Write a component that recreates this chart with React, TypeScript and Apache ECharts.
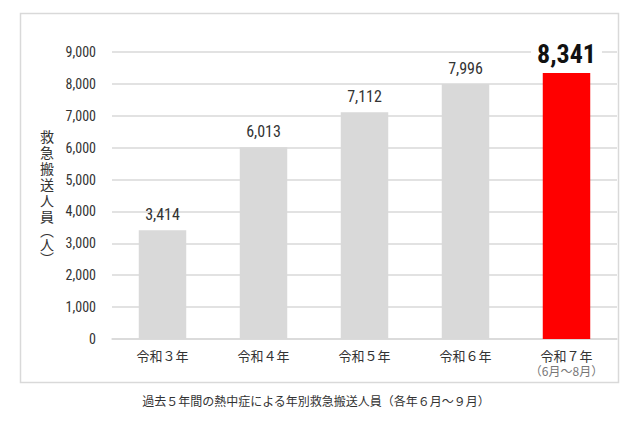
import { useEffect, useRef } from 'react'
import * as echarts from 'echarts'

const categories = ['令和３年', '令和４年', '令和５年', '令和６年', '令和７年']
const values = [3414, 6013, 7112, 7996, 8341]
const yTicks = [0, 1000, 2000, 3000, 4000, 5000, 6000, 7000, 8000, 9000]
const yAxisName = ['救', '急', '搬', '送', '人', '員', '︵', '人', '︶']
const caption = '過去５年間の熱中症による年別救急搬送人員（各年６月～９月）'
const lastNote = '（6月～8月）'

const narrow = '"Liberation Sans Narrow", "Roboto Condensed", "DejaVu Sans Condensed", Roboto, sans-serif'
const jp = '"Noto Sans CJK JP", sans-serif'

export default function App() {
  const chartRef = useRef<HTMLDivElement>(null)

  useEffect(() => {
    if (!chartRef.current) return
    document.body.style.margin = '0'
    const chart = echarts.init(chartRef.current, null, { renderer: 'svg' })
    const last = values.length - 1
    const fmt = (v: number) => v.toLocaleString('en-US')

    // vertical axis title, one glyph per line; the vertical brackets take less room
    let y = 136
    const nameTexts = yAxisName.map((ch, i) => {
      if (i > 0) {
        const prevParen = '︵︶'.includes(yAxisName[i - 1])
        const paren = '︵︶'.includes(ch)
        y += prevParen || paren ? 14 : 16
      }
      return {
        type: 'text',
        x: 47,
        y,
        style: {
          text: ch,
          font: `14px ${jp}`,
          fill: '#333',
          textAlign: 'center',
          textVerticalAlign: 'middle'
        }
      }
    })

    const option = {
      animation: false,
      backgroundColor: '#fff',
      graphic: [
        {
          type: 'rect',
          shape: { x: 20.5, y: 13.5, width: 598, height: 369 },
          style: { fill: 'none', stroke: '#d9d9d9', lineWidth: 1.5 },
          z: -1
        },
        ...nameTexts,
        {
          type: 'text',
          x: 316,
          y: 400,
          style: {
            text: caption,
            font: `12px ${jp}`,
            fill: '#333',
            textAlign: 'center',
            textVerticalAlign: 'middle'
          }
        }
      ],
      grid: { left: 112, right: 23, top: 52, bottom: 92 },
      xAxis: {
        type: 'category',
        data: categories,
        axisLine: { lineStyle: { color: '#d9d9d9', width: 1.5 } },
        axisTick: { show: false },
        axisLabel: {
          interval: 0,
          margin: 9,
          lineHeight: 15,
          formatter: (v: string, i: number) =>
            i === last ? `{a|${v}}\n{b|${lastNote}}` : `{a|${v}}`,
          rich: {
            a: { fontFamily: jp, fontSize: 13, color: '#333', lineHeight: 15 },
            b: { fontFamily: jp, fontSize: 12, color: '#777', lineHeight: 14 }
          }
        }
      },
      yAxis: {
        type: 'value',
        min: yTicks[0],
        max: yTicks[yTicks.length - 1],
        interval: 1000,
        axisLine: { show: false },
        axisTick: { show: false },
        axisLabel: {
          margin: 16,
          fontFamily: narrow,
          fontSize: 14,
          color: '#333',
          formatter: (v: number) => fmt(v)
        },
        splitLine: { lineStyle: { color: '#d9d9d9', width: 1.5 } }
      },
      series: [
        {
          type: 'bar',
          barWidth: '47%',
          data: values.map((v, i) => ({
            value: v,
            itemStyle: { color: i === last ? '#ff0000' : '#d9d9d9' },
            label:
              i === last
                ? {
                    fontSize: 26,
                    fontWeight: 'bold',
                    color: '#111',
                    distance: 6,
                    backgroundColor: '#fff',
                    padding: [0, 6]
                  }
                : {}
          })),
          label: {
            show: true,
            position: 'top',
            distance: 8,
            fontFamily: narrow,
            fontSize: 16,
            color: '#333',
            formatter: (p: any) => fmt(p.value)
          }
        }
      ]
    }

    chart.setOption(option)
    return () => {
      chart.dispose()
    }
  }, [])

  return <div ref={chartRef} style={{ width: 640, height: 431 }} />
}
